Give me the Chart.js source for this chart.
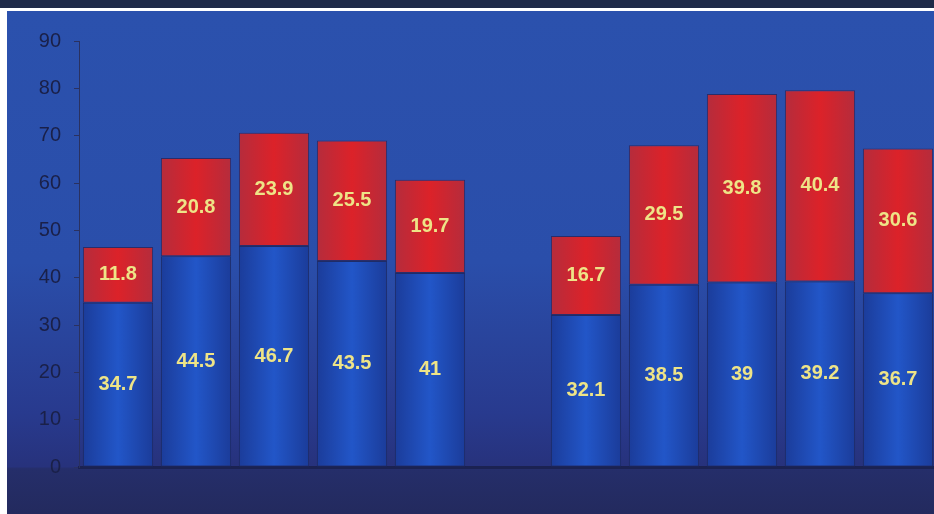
<!DOCTYPE html>
<html>
<head>
<meta charset="utf-8">
<script src="https://cdn.jsdelivr.net/npm/chart.js@4"></script>
<style>
  html, body { margin: 0; padding: 0; width: 934px; height: 514px; overflow: hidden; background: #fff; }
  #top { position: absolute; left: 0; top: 0; width: 934px; height: 8px; background: #1f2a48; }
  #frame {
    position: absolute; left: 7px; top: 11px; width: 930px; height: 503px;
    background: linear-gradient(to bottom, #2b51ad 0%, #2a4eaa 50%, #283a8e 80%, #27327c 90.6%, #252e6a 91%, #232a5e 100%);
  }
  canvas { display: block; }
</style>
</head>
<body>
<div id="top"></div>
<div id="frame"><canvas id="myChart" width="930" height="503"></canvas></div>
<script>
const categories = ['1', '2', '3', '4', '5', '', '6', '7', '8', '9', '10'];
const lower = [34.7, 44.5, 46.7, 43.5, 41, null, 32.1, 38.5, 39, 39.2, 36.7];
const upper = [11.8, 20.8, 23.9, 25.5, 19.7, null, 16.7, 29.5, 39.8, 40.4, 30.6];
const yTicks = [0, 10, 20, 30, 40, 50, 60, 70, 80, 90];

function barGradient(ctx, edge, mid) {
  const chart = ctx.chart;
  if (!chart.chartArea) return mid;
  const x = chart.scales.x.getPixelForValue(ctx.dataIndex);
  const half = chart.scales.x.width / categories.length * 0.45;
  const g = chart.ctx.createLinearGradient(x - half, 0, x + half, 0);
  g.addColorStop(0, edge);
  g.addColorStop(0.5, mid);
  g.addColorStop(1, edge);
  return g;
}

const valueLabels = {
  id: 'valueLabels',
  afterDatasetsDraw(chart) {
    const c = chart.ctx;
    c.save();
    c.font = 'bold 20px "Liberation Sans", Arial, sans-serif';
    c.fillStyle = '#eee487';
    c.textAlign = 'center';
    c.textBaseline = 'middle';
    chart.data.datasets.forEach((ds, i) => {
      chart.getDatasetMeta(i).data.forEach((bar, j) => {
        if (ds.data[j] == null) return;
        const p = bar.getProps(['x', 'y', 'base'], true);
        c.fillText(String(ds.data[j]), p.x, (p.y + p.base) / 2);
      });
    });
    c.restore();
  }
};

const ctx = document.getElementById('myChart').getContext('2d');
new Chart(ctx, {
  type: 'bar',
  data: {
    labels: categories,
    datasets: [
      {
        data: lower,
        backgroundColor: c => barGradient(c, '#1b3c9a', '#2256c8'),
        borderColor: '#1e2c68',
        borderWidth: 1,
        borderSkipped: false
      },
      {
        data: upper,
        backgroundColor: c => barGradient(c, '#b52c3c', '#dc2229'),
        borderColor: '#2a2d6a',
        borderWidth: 1,
        borderSkipped: false
      }
    ]
  },
  options: {
    responsive: false,
    animation: false,
    layout: { padding: { top: 30, bottom: 47, left: 0, right: 0 } },
    plugins: { legend: { display: false }, tooltip: { enabled: false } },
    datasets: { bar: { barPercentage: 0.9, categoryPercentage: 1 } },
    scales: {
      x: {
        stacked: true,
        grid: { display: false },
        ticks: { display: false },
        border: { display: true, color: '#1b2252', width: 3 },
        afterFit: s => { s.height = 0; }
      },
      y: {
        stacked: true,
        min: 0,
        max: 90,
        afterBuildTicks: s => { s.ticks = yTicks.map(v => ({ value: v })); },
        grid: { drawOnChartArea: false, tickLength: 5, color: '#2a3160' },
        border: { display: true, color: '#2a3160', width: 1 },
        ticks: {
          padding: 13,
          color: '#1a2048',
          font: { family: '"Liberation Sans", Arial, sans-serif', size: 20 }
        },
        afterFit: s => { s.width = 72; }
      }
    }
  },
  plugins: [valueLabels]
});
</script>
</body>
</html>
